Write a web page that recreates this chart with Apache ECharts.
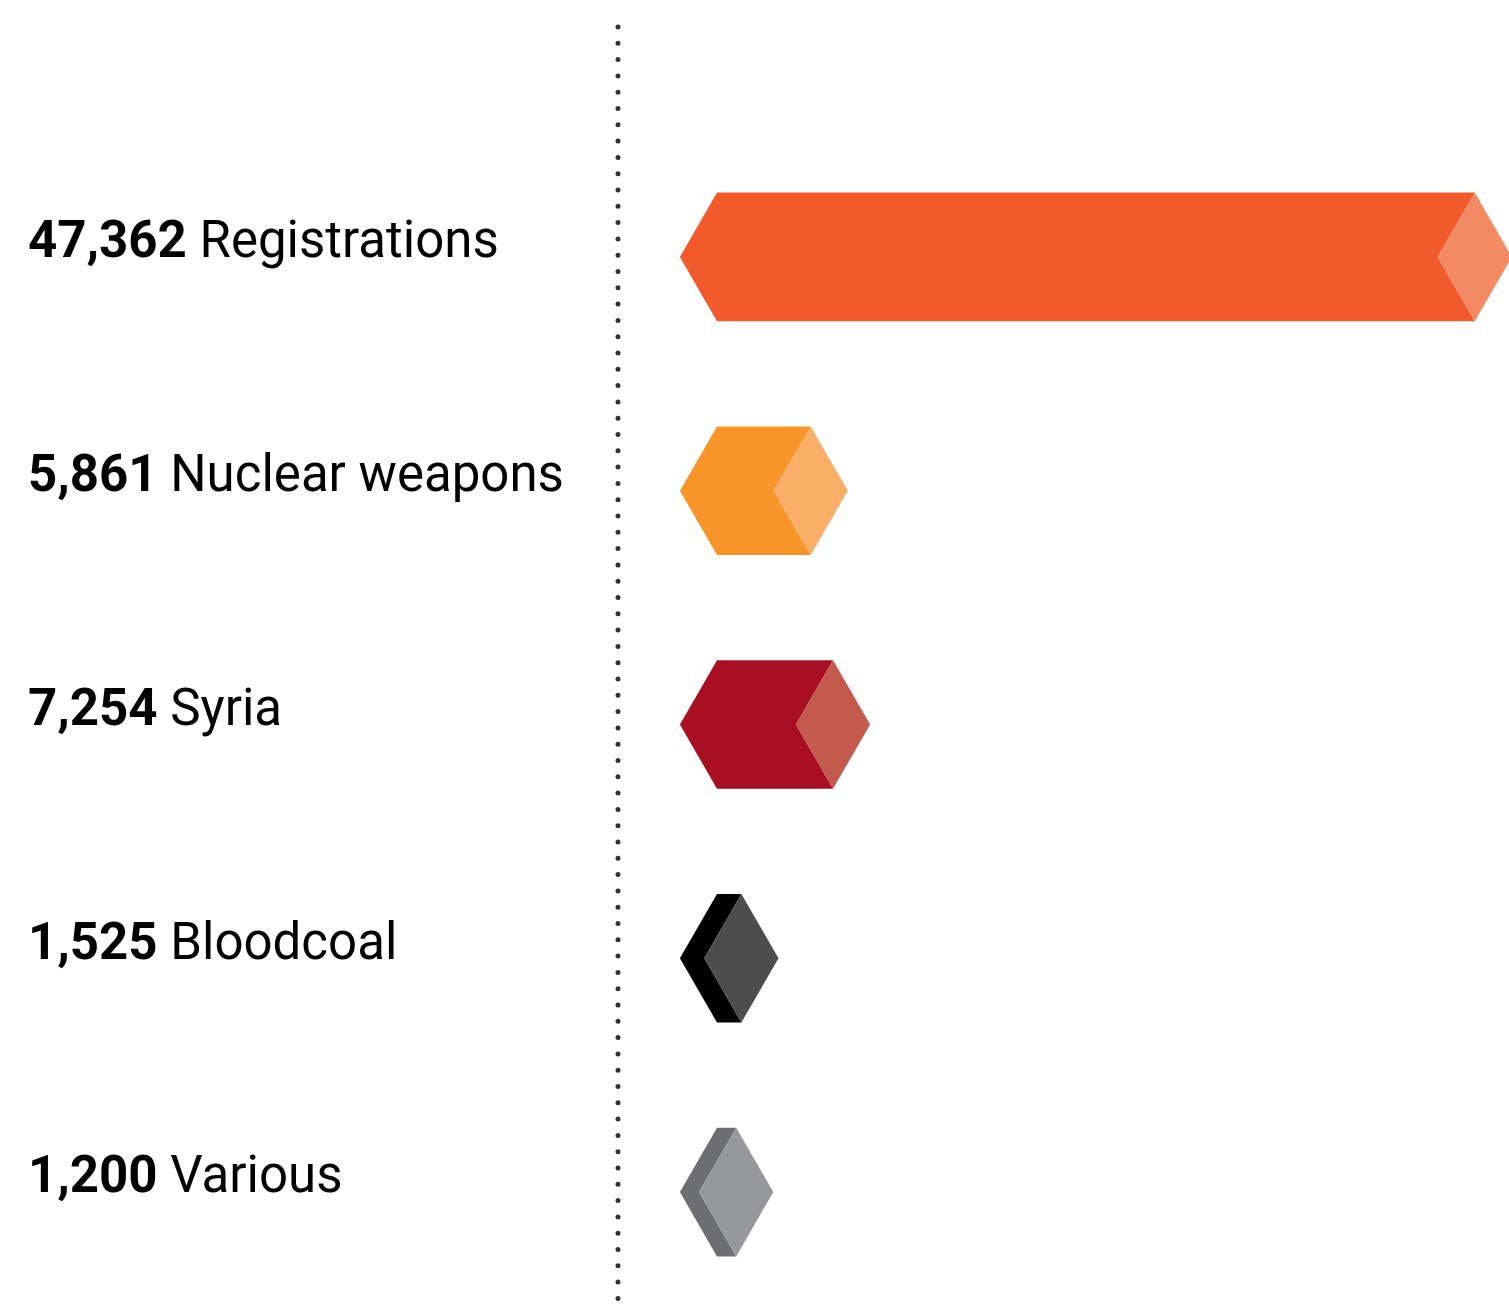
<!DOCTYPE html>
<html>
<head>
<meta charset="utf-8">
<script src="https://cdn.jsdelivr.net/npm/echarts@6/dist/echarts.min.js"></script>
<style>
  html, body { margin: 0; padding: 0; background: #fff; }
  #chart { width: 1509px; height: 1309px; }
</style>
</head>
<body>
<div id="chart"></div>
<script>
// data
const categories = ['Registrations', 'Nuclear weapons', 'Syria', 'Bloodcoal', 'Various']
const values = [47362, 5861, 7254, 1525, 1200]
const bodyColors = ['#F05A2C', '#F7952A', '#A90F22', '#000000', '#6D6E71']
const faceColors = ['#F48A63', '#FAAF68', '#C45A4E', '#4D4D4D', '#97989B']

const chart = echarts.init(document.getElementById('chart'))

// hexagon bar: left tip, flat body, lighter rhombus at the end
function renderHex(params, api) {
  const idx = api.value(0)
  const start = api.coord([0, idx])
  const end = api.coord([api.value(1), idx])
  const h = api.size([0, 1])[1] * 0.275
  const d = h * 0.577
  const y = start[1]
  const x0 = start[0]
  const x1 = end[0]
  return {
    type: 'group',
    children: [
      {
        type: 'polygon',
        shape: { points: [[x0 - d, y], [x0, y - h], [x1, y - h], [x1 - d, y], [x1, y + h], [x0, y + h]] },
        style: { fill: bodyColors[idx] }
      },
      {
        type: 'polygon',
        shape: { points: [[x1, y - h], [x1 + d, y], [x1, y + h], [x1 - d, y]] },
        style: { fill: faceColors[idx] }
      }
    ]
  }
}

chart.setOption({
  animation: false,
  grid: { left: 717, top: 140, height: 1174, right: 0 },
  xAxis: {
    type: 'value', min: 0, max: 49500,
    show: false
  },
  yAxis: {
    type: 'category',
    data: categories,
    inverse: true,
    axisLine: { show: false },
    axisTick: { show: false },
    splitLine: { show: false },
    axisLabel: {
      margin: 689,
      align: 'left',
      padding: [0, 0, 25, 0],
      formatter: (name, i) => '{b|' + values[i].toLocaleString('en-US') + '}{n| ' + name + '}',
      rich: {
        b: { fontFamily: 'Roboto', fontWeight: 'bold', fontSize: 51, color: '#000' },
        n: { fontFamily: 'Roboto', fontSize: 51, color: '#000' }
      }
    }
  },
  graphic: [{
    type: 'line',
    shape: { x1: 618, y1: 27, x2: 618, y2: 1305 },
    style: { stroke: '#333', lineWidth: 5, lineDash: [0, 16.3], lineCap: 'round' }
  }],
  series: [{
    type: 'custom',
    renderItem: renderHex,
    encode: { x: 1, y: 0 },
    data: values.map((v, i) => [i, v])
  }]
})
</script>
</body>
</html>
